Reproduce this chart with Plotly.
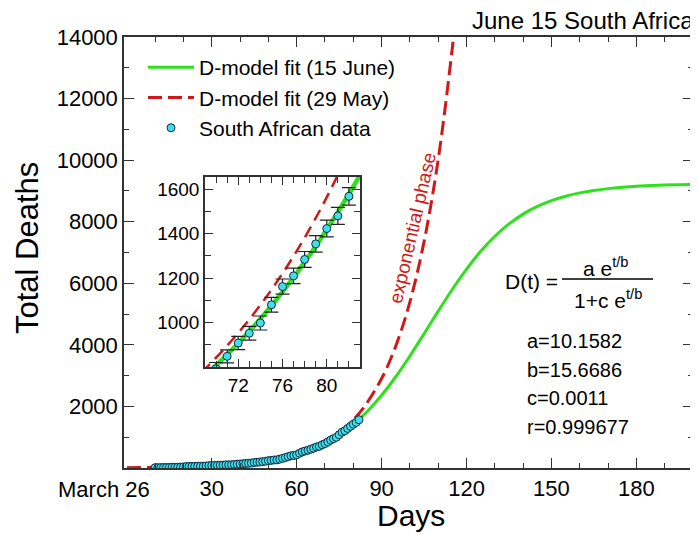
import numpy as np
import plotly.graph_objects as go

# ---------------- data ----------------
days = list(range(10, 83))
deaths = [11, 12, 13, 18, 18, 18, 24, 25, 25, 27,
          34, 48, 50, 52, 54, 58, 58, 58, 65, 75,
          79, 86, 87, 90, 93, 103, 103, 106, 116, 123,
          131, 138, 148, 153, 161, 178, 186, 194, 206, 219,
          238, 247, 261, 264, 286, 312, 339, 369, 397, 407,
          429, 481, 524, 552, 577, 611, 643, 683, 705, 755,
          792, 848, 908, 952, 998, 1080, 1162, 1210, 1284, 1354,
          1423, 1480, 1568]

fit_days = [69, 70, 71, 72, 73, 74, 75, 76, 77, 78, 79, 80, 81, 82, 83,
            85, 90, 95, 100, 105, 110, 115, 120, 125, 130, 135, 140, 145,
            150, 155, 160, 165, 170, 175, 180, 185, 190, 195, 200]
fit_june15 = [761.9, 807.8, 856.1, 907.0, 960.5, 1016.8, 1076.0, 1138.2, 1203.4,
              1271.8, 1343.5, 1418.4, 1496.7, 1578.5, 1663.8,
              1845.0, 2361.3, 2964.0, 3639.1, 4361.0, 5095.8, 5806.8, 6462.2,
              7039.6, 7528.5, 7928.7, 8247.3, 8495.5, 8685.4, 8828.9, 8936.2,
              9015.7, 9074.6, 9117.9, 9149.6, 9172.8, 9189.5, 9201.8, 9210.9]

may_days = [0, 10, 20, 30, 40, 50, 60, 65, 68, 70, 72, 74, 76, 78, 80, 82, 84,
            90, 95, 100, 105, 110, 115, 116]
fit_may29 = [11.0, 20.5, 38.1, 70.8, 131.4, 244.1, 453.4, 617.8, 744.0, 842.2,
             953.2, 1078.8, 1221.0, 1382.0, 1564.2, 1770.4, 2003.8, 2905.7,
             3959.0, 5396.0, 7355.0, 10024.0, 13662.0, 14534.0]

x_tickvals = [30, 60, 90, 120, 150, 180]
x_ticktext = ["30", "60", "90", "120", "150", "180"]
x_minorvals = [10, 20, 40, 50, 70, 80, 100, 110, 130, 140, 160, 170, 190]
y_tickvals = [2000, 4000, 6000, 8000, 10000, 12000, 14000]
y_ticktext = ["2000", "4000", "6000", "8000", "10000", "12000", "14000"]
y_minorvals = [1000, 3000, 5000, 7000, 9000, 11000, 13000]

in_x_tickvals = [72, 76, 80]
in_x_ticktext = ["72", "76", "80"]
in_y_tickvals = [1000, 1200, 1400, 1600]
in_y_ticktext = ["1000", "1200", "1400", "1600"]
in_y_minorvals = [900, 1100, 1300, 1500]

params = ["a=10.1582", "b=15.6686", "c=0.0011", "r=0.999677"]

# ---------------- style ----------------
GREEN = "#2fe01c"
RED = "#d01818"
CYAN = "#40dfe6"
EDGE = "#0b2b48"
FONT = "Liberation Sans, Arial, sans-serif"

# plot-area edges in screen pixels; the page body adds an 8px offset
OFF = 8
L, R, T, B = 124, 693, 37, 468
W, H = R - L, B - T
FW, FH = 698, 535


def px(x):
    return (x - L) / W


def py(y):
    return (B - y) / H


err = np.sqrt(np.array(deaths, dtype=float))

fig = go.Figure()

# main panel
fig.add_trace(go.Scatter(x=fit_days, y=fit_june15, mode="lines", name="D-model fit (15 June)",
                         line=dict(color=GREEN, width=3, shape="spline"),
                         xaxis="x", yaxis="y"))
fig.add_trace(go.Scatter(x=may_days, y=fit_may29, mode="lines", name="D-model fit (29 May)",
                         line=dict(color=RED, width=3, dash="14px,6px", shape="spline"),
                         xaxis="x", yaxis="y"))
fig.add_trace(go.Scatter(x=days, y=deaths, mode="markers", name="South African data",
                         marker=dict(color=CYAN, size=8, line=dict(color=EDGE, width=1)),
                         error_y=dict(type="data", array=err, width=3, thickness=1, color="#222"),
                         xaxis="x", yaxis="y"))

# inset panel
fig.add_trace(go.Scatter(x=fit_days, y=fit_june15, mode="lines", showlegend=False,
                         line=dict(color=GREEN, width=4.5, shape="spline"),
                         xaxis="x2", yaxis="y2"))
fig.add_trace(go.Scatter(x=may_days, y=fit_may29, mode="lines", showlegend=False,
                         line=dict(color=RED, width=2.5, dash="12px,7px", shape="spline"),
                         xaxis="x2", yaxis="y2"))
fig.add_trace(go.Scatter(x=days, y=deaths, mode="markers", showlegend=False,
                         marker=dict(color=CYAN, size=8, line=dict(color=EDGE, width=1)),
                         error_y=dict(type="data", array=err, width=7, thickness=1.2, color="#222"),
                         xaxis="x2", yaxis="y2"))

axis_common = dict(showline=True, linecolor="#333", linewidth=1.5, mirror="ticks",
                   ticks="inside", tickcolor="#333", showgrid=False, zeroline=False,
                   tickfont=dict(family=FONT, size=22, color="black"))
inset_common = dict(showline=True, linecolor="#333", linewidth=1.5, mirror="ticks",
                    ticks="inside", tickcolor="#333", showgrid=False, zeroline=False,
                    tickfont=dict(family=FONT, size=19, color="black"))

fig.update_layout(
    width=FW, height=FH,
    margin=dict(l=L - OFF, r=FW - (R - OFF), t=T - OFF, b=FH - (B - OFF), autoexpand=False),
    paper_bgcolor="white", plot_bgcolor="white",
    font=dict(family=FONT, color="black"),
    xaxis=dict(domain=[0, 1], range=[-1, 200], tickmode="array", tickvals=x_tickvals,
               ticktext=x_ticktext, ticklen=10, tickwidth=1.2,
               minor=dict(tickmode="array", tickvals=x_minorvals, ticklen=5, ticks="inside",
                          tickcolor="#333"),
               **axis_common),
    yaxis=dict(domain=[0, 1], range=[0, 14000], tickmode="array", tickvals=y_tickvals,
               ticktext=y_ticktext, ticklen=10, tickwidth=1.2,
               minor=dict(tickmode="array", tickvals=y_minorvals, ticklen=5, ticks="inside",
                          tickcolor="#333"),
               **axis_common),
    xaxis2=dict(domain=[px(205), px(360)], anchor="y2", range=[69, 83],
                tickmode="array", tickvals=in_x_tickvals, ticktext=in_x_ticktext, ticklen=8,
                minor=dict(tickmode="linear", tick0=69, dtick=1, ticklen=6, ticks="inside",
                           tickcolor="#333"),
                **inset_common),
    yaxis2=dict(domain=[py(367), py(177)], anchor="x2", range=[800, 1655],
                tickmode="array", tickvals=in_y_tickvals, ticktext=in_y_ticktext, ticklen=8,
                minor=dict(tickmode="array", tickvals=in_y_minorvals, ticklen=6, ticks="inside",
                           tickcolor="#333"),
                **inset_common),
    legend=dict(x=px(143), y=py(47), xanchor="left", yanchor="top",
                bgcolor="rgba(255,255,255,0)", font=dict(family=FONT, size=21, color="black"),
                itemwidth=46),
    showlegend=True,
)

ann = []
ann.append(dict(text="June 15 South Africa", x=px(696), y=py(20), xanchor="right", yanchor="middle",
                font=dict(size=24)))
ann.append(dict(text="March 26", x=px(104), y=py(489), xanchor="center", yanchor="middle",
                font=dict(size=22)))
ann.append(dict(text="Days", x=px(411), y=py(515), xanchor="center", yanchor="middle",
                font=dict(size=30)))
ann.append(dict(text="Total Deaths", x=px(28), y=py(248), xanchor="center", yanchor="middle",
                textangle=-90, font=dict(size=31)))
ann.append(dict(text="exponential phase", x=px(412), y=py(228), xanchor="center", yanchor="middle",
                textangle=-77, font=dict(size=19, color=RED)))
ann.append(dict(text="D(t) =", x=px(531), y=py(281), xanchor="center", yanchor="middle",
                font=dict(size=21)))
ann.append(dict(text="a e<sup>t/b</sup>", x=px(606), y=py(267), xanchor="center", yanchor="middle",
                font=dict(size=21)))
ann.append(dict(text="1+c e<sup>t/b</sup>", x=px(608), y=py(299), xanchor="center", yanchor="middle",
                font=dict(size=21)))
for i, p in enumerate(params):
    ann.append(dict(text=p, x=px(525), y=py(341 + 28.5 * i), xanchor="left", yanchor="middle",
                    font=dict(size=20)))
for a in ann:
    a.update(xref="paper", yref="paper", showarrow=False)
fig.update_layout(annotations=ann)

fig.add_shape(type="line", xref="paper", yref="paper", x0=px(562), x1=px(653), y0=py(279), y1=py(279),
              line=dict(color="black", width=1.5))

fig.write_html("out.html")
